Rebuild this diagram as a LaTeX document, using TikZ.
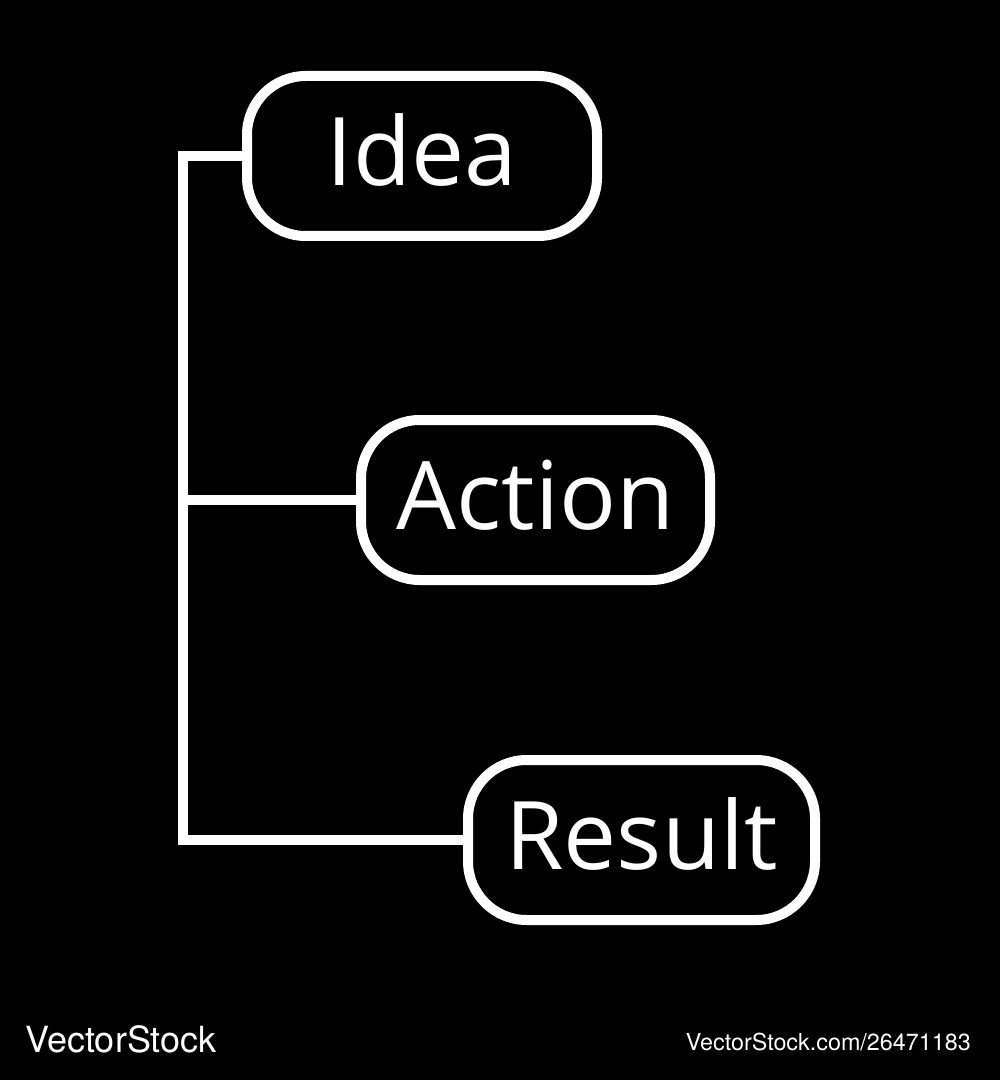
\documentclass[tikz,border=0pt]{standalone}
\usepackage{fontspec}
\setmainfont{Open Sans}
\newfontfamily\wmfont{TeX Gyre Heros}
\begin{document}
\begin{tikzpicture}[x=0.75pt,y=-0.75pt,
  box/.style={draw=white,line width=7.5pt,rounded corners=44pt,
    minimum height=120pt,inner sep=0pt,text=white,
    font=\fontsize{71}{80}\selectfont,text height=51pt,text depth=6.5pt},
  conn/.style={draw=white,line width=7.5pt,line join=miter},
  wmtext/.style={text=white,inner sep=0pt}]
\fill[black] (0,0) rectangle (1000,1080);
\useasboundingbox (0,0) rectangle (1000,1080);
\node[box,minimum width=262.5pt] (idea) at (422,156) {Idea};
\node[box,minimum width=261.75pt] (action) at (535.5,500) {Action};
\node[box,minimum width=260.25pt] (result) at (641.5,840) {Result};
\coordinate (top) at (183,156);
\coordinate (bot) at (183,840);
\draw[conn] (idea.west) -- (top) -- (bot) -- (result.west);
\draw[conn] (action.west) -- (action.west -| top);
\node[wmtext,anchor=base west,font=\wmfont\fontsize{27}{30}\selectfont] (wm1) at (25,1052) {VectorStock};
\node[wmtext,anchor=base east,font=\wmfont\fontsize{17.5}{20}\selectfont] (wm2) at (971,1050) {VectorStock.com/26471183};
\end{tikzpicture}
\end{document}
